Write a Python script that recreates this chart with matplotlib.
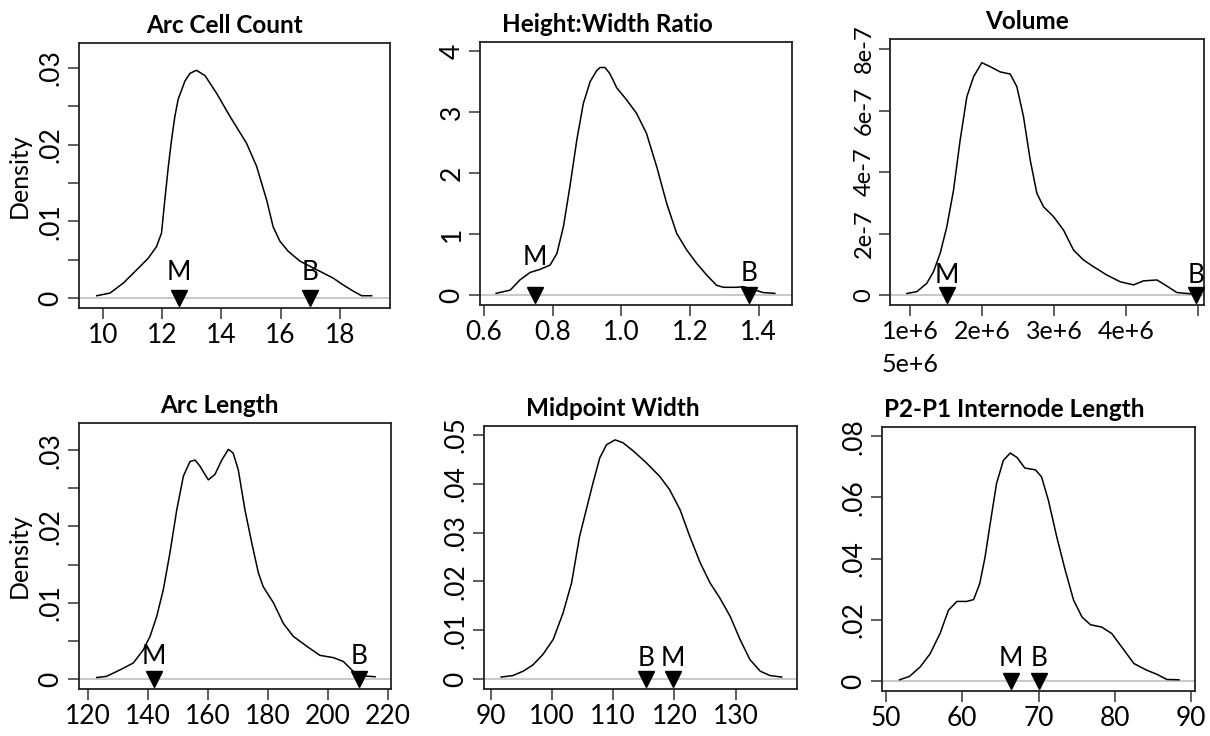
import matplotlib
matplotlib.use("Agg")
import matplotlib.pyplot as plt
from matplotlib.ticker import FixedLocator
import matplotlib.transforms as mtransforms

plt.rcParams['font.family'] = ['Lato', 'DejaVu Sans']

# ---------------- data ----------------
titles = ["Arc Cell Count", "Height:Width Ratio", "Volume",
          "Arc Length", "Midpoint Width", "P2-P1 Internode Length"]

# Panel 1: Arc Cell Count
x1 = [9.79, 10.24, 10.69, 11.25, 11.53, 11.81, 11.98, 12.09, 12.21, 12.32, 12.43, 12.54,
      12.77, 12.94, 13.16, 13.45, 13.84, 14.29, 14.85, 15.19, 15.53, 15.75, 15.98, 16.26,
      16.66, 17.22, 17.78, 18.12, 18.46, 18.74, 19.08]
y1 = [0.0003, 0.00065, 0.00196, 0.0041, 0.0052, 0.0067, 0.0085, 0.0128, 0.0172, 0.0207,
      0.0237, 0.0259, 0.0283, 0.0293, 0.0297, 0.029, 0.0267, 0.0237, 0.0202, 0.0172,
      0.0128, 0.0093, 0.0074, 0.0061, 0.0048, 0.0037, 0.0026, 0.0017, 0.0009, 0.0003,
      0.0003]

# Panel 2: Height:Width Ratio
x2 = [0.635, 0.676, 0.705, 0.734, 0.763, 0.792, 0.812, 0.831, 0.85, 0.87, 0.889, 0.909,
      0.928, 0.938, 0.952, 0.965, 0.976, 0.986, 1.015, 1.044, 1.073, 1.103, 1.132, 1.161,
      1.19, 1.219, 1.248, 1.277, 1.297, 1.336, 1.355, 1.384, 1.413, 1.447]
y2 = [0.027, 0.08, 0.25, 0.37, 0.42, 0.49, 0.68, 1.12, 1.78, 2.54, 3.14, 3.50, 3.68,
      3.73, 3.73, 3.64, 3.52, 3.40, 3.20, 2.98, 2.65, 2.10, 1.50, 1.01, 0.74, 0.52,
      0.33, 0.16, 0.126, 0.126, 0.137, 0.09, 0.04, 0.027]

# Panel 3: Volume
x3 = [0.954e6, 1.093e6, 1.231e6, 1.324e6, 1.417e6, 1.509e6, 1.602e6, 1.694e6, 1.787e6,
      1.88e6, 1.995e6, 2.111e6, 2.25e6, 2.389e6, 2.481e6, 2.574e6, 2.667e6, 2.759e6,
      2.852e6, 2.991e6, 3.13e6, 3.269e6, 3.407e6, 3.546e6, 3.731e6, 3.917e6, 4.102e6,
      4.24e6, 4.426e6, 4.565e6, 4.704e6, 4.843e6, 4.95e6]
y3 = [0.05e-7, 0.11e-7, 0.38e-7, 0.76e-7, 1.36e-7, 2.22e-7, 3.41e-7, 5.04e-7, 6.45e-7,
      7.10e-7, 7.56e-7, 7.43e-7, 7.26e-7, 7.19e-7, 6.78e-7, 5.80e-7, 4.39e-7, 3.31e-7,
      2.87e-7, 2.55e-7, 2.11e-7, 1.46e-7, 1.14e-7, 0.92e-7, 0.65e-7, 0.43e-7, 0.33e-7,
      0.46e-7, 0.49e-7, 0.29e-7, 0.08e-7, 0.05e-7, 0.03e-7]

# Panel 4: Arc Length
x4 = [122.9, 126.2, 130.7, 135.1, 138.4, 140.7, 142.9, 145.1, 147.3, 149.6, 151.8, 154.0,
      155.7, 157.3, 160.1, 162.3, 164.6, 166.8, 168.4, 170.1, 172.3, 174.6, 176.8, 178.4,
      181.8, 185.1, 188.4, 192.9, 197.3, 201.8, 205.1, 208.4, 211.8, 215.7]
y4 = [0.0002, 0.00035, 0.0012, 0.0021, 0.0038, 0.0056, 0.0082, 0.0117, 0.0165, 0.0222,
      0.0266, 0.0285, 0.0287, 0.0279, 0.0261, 0.0268, 0.0287, 0.0301, 0.0296, 0.0274,
      0.0222, 0.0178, 0.0139, 0.0121, 0.0100, 0.0073, 0.0056, 0.0043, 0.0031, 0.0028,
      0.0023, 0.0010, 0.0004, 0.0003]

# Panel 5: Midpoint Width
x5 = [91.7, 93.6, 95.3, 96.9, 98.5, 100.2, 101.8, 103.2, 104.5, 105.6, 106.7, 107.8,
      108.9, 110.3, 111.6, 113.3, 115.4, 117.6, 119.2, 120.9, 122.5, 124.2, 125.8, 127.4,
      129.1, 130.7, 132.3, 134.0, 135.6, 137.5]
y5 = [0.0004, 0.0007, 0.0016, 0.0029, 0.005, 0.0081, 0.0135, 0.0197, 0.0292, 0.0347,
      0.0402, 0.0453, 0.048, 0.049, 0.0484, 0.0467, 0.0443, 0.0415, 0.0388, 0.0347,
      0.0292, 0.0238, 0.0197, 0.0166, 0.0128, 0.0081, 0.004, 0.0016, 0.0007, 0.0004]

# Panel 6: P2-P1 Internode Length
x6 = [51.8, 53.1, 54.5, 55.8, 57.1, 58.2, 59.3, 60.6, 61.5, 62.3, 63.0, 63.6, 64.5, 65.4,
      66.3, 67.2, 68.2, 69.6, 70.4, 71.3, 72.4, 73.5, 74.6, 75.7, 76.8, 78.3, 79.6, 80.9,
      82.5, 84.2, 85.5, 86.8, 88.4]
y6 = [0.0004, 0.0015, 0.0046, 0.0089, 0.0155, 0.0231, 0.026, 0.026, 0.0266, 0.0318,
      0.0405, 0.0503, 0.0645, 0.0721, 0.0745, 0.073, 0.0696, 0.069, 0.0667, 0.059, 0.047,
      0.0362, 0.0264, 0.0209, 0.0184, 0.0176, 0.0155, 0.0111, 0.0057, 0.0035, 0.0022,
      0.0005, 0.0004]

xs = [x1, x2, x3, x4, x5, x6]
ys = [y1, y2, y3, y4, y5, y6]

# reference markers (M, B): positions and label heights
m_pos = [12.57, 0.748, 1.509e6, 142.1, 119.8, 66.4]
b_pos = [17.0, 1.371, 4.968e6, 210.4, 115.4, 70.1]
m_lab_y = [0.0033, 0.62, 0.65e-7, 0.0029, 0.0043, 0.0072]
b_lab_y = [0.0033, 0.36, 0.65e-7, 0.0029, 0.0043, 0.0072]

# axis ticks
xticks = [[10, 12, 14, 16, 18],
          [0.6, 0.8, 1.0, 1.2, 1.4],
          [1e6, 2e6, 3e6, 4e6, 5e6],
          [120, 140, 160, 180, 200, 220],
          [90, 100, 110, 120, 130],
          [50, 60, 70, 80, 90]]
xticklabels = [["10", "12", "14", "16", "18"],
               ["0.6", "0.8", "1.0", "1.2", "1.4"],
               ["1e+6", "2e+6", "3e+6", "4e+6", ""],
               ["120", "140", "160", "180", "200", "220"],
               ["90", "100", "110", "120", "130"],
               ["50", "60", "70", "80", "90"]]
yticks = [[0, 0.01, 0.02, 0.03],
          [0, 1, 2, 3, 4],
          [0, 2e-7, 4e-7, 6e-7, 8e-7],
          [0, 0.01, 0.02, 0.03],
          [0, 0.01, 0.02, 0.03, 0.04, 0.05],
          [0, 0.02, 0.04, 0.06, 0.08]]
yticklabels = [["0", ".01", ".02", ".03"],
               ["0", "1", "2", "3", "4"],
               ["0", "2e-7", "4e-7", "6e-7", "8e-7"],
               ["0", ".01", ".02", ".03"],
               ["0", ".01", ".02", ".03", ".04", ".05"],
               ["0", ".02", ".04", ".06", ".08"]]
yminor = [[0.005, 0.015, 0.025], [], [], [0.005, 0.015, 0.025], [], []]
ylabels = ["Density", "", "", "Density", "", ""]

xlims = [(9.19, 19.7), (0.588, 1.497), (0.72e6, 5.08e6), (117, 221), (88.9, 140), (49.5, 90.5)]
ylims = [(-0.0013, 0.03326), (-0.164, 4.148), (-0.325e-7, 8.33e-7),
         (-0.00131, 0.03355), (-0.00205, 0.05184), (-0.00327, 0.0830)]

# layout (pixels): axes boxes (left, top, right, bottom) and title centres
boxes = [(79, 43, 390, 308), (480, 42, 792, 305), (890, 39, 1204, 305),
         (79, 423, 391, 689), (484, 426, 797, 689), (882, 427, 1195, 691)]
title_cx = [225, 607, 1027, 219, 613, 1014]

W, H = 1210, 736
fig = plt.figure(figsize=(W / 100, H / 100), dpi=100)

FS = 19
for i in range(6):
    l, t, r, b = boxes[i]
    ax = fig.add_axes([l / W, 1 - b / H, (r - l) / W, (b - t) / H])
    ax.axhline(0, color="#c8c8c8", lw=1.4, zorder=1)
    ax.plot(xs[i], ys[i], color="black", lw=1.1, zorder=2)
    ax.plot([m_pos[i], b_pos[i]], [0, 0], linestyle="none", marker="v",
            markersize=11, color="black", zorder=3, clip_on=False)
    ax.text(m_pos[i], m_lab_y[i], "M", ha="center", va="center", fontsize=FS)
    ax.text(b_pos[i], b_lab_y[i], "B", ha="center", va="center", fontsize=FS)
    ax.set_xlim(*xlims[i])
    ax.set_ylim(*ylims[i])
    ax.set_xticks(xticks[i])
    ax.set_yticks(yticks[i])
    xfs = 18 if i == 2 else FS
    yfs = 17 if i == 2 else FS
    ax.set_xticklabels(xticklabels[i], fontsize=xfs)
    ax.set_yticklabels(yticklabels[i], rotation=90, va="center", fontsize=yfs)
    if yminor[i]:
        ax.yaxis.set_minor_locator(FixedLocator(yminor[i]))
        ax.tick_params(axis="y", which="minor", length=8, width=1.1, color="#333333")
    ax.tick_params(axis="both", which="major", length=8, width=1.1, color="#333333",
                   pad=3)
    for sp in ax.spines.values():
        sp.set_linewidth(1.3)
        sp.set_color("#222222")
    ax.set_title(titles[i], fontsize=17.5, fontweight="bold", pad=7,
                 x=(title_cx[i] - l) / (r - l))
    if ylabels[i]:
        ax.set_ylabel(ylabels[i], fontsize=FS - 1, labelpad=6)
    if i == 2:
        trans = mtransforms.blended_transform_factory(ax.transData, ax.transAxes)
        ax.text(1e6, -0.225, "5e+6", transform=trans, ha="center", va="center",
                fontsize=xfs)

fig.savefig("out.png", dpi=100)
